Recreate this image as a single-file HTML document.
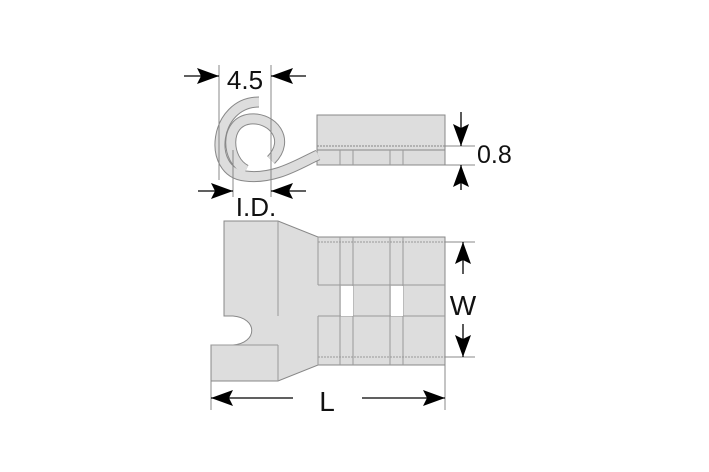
<!DOCTYPE html>
<html><head><style>body{margin:0;background:#fff}svg{display:block}text{font-family:"Liberation Sans",sans-serif;fill:#111}</style></head><body>
<svg width="709" height="472" viewBox="0 0 709 472">
<defs><marker id="a" markerWidth="22" markerHeight="16" refX="22" refY="8" orient="auto" markerUnits="userSpaceOnUse"><path d="M0,0L22,8L0,16L4,8Z" fill="#000"/></marker></defs>
<g stroke="#888" stroke-width="1" fill="#ddd">
<rect x="317" y="115" width="128" height="50"/>
<line x1="317" y1="146" x2="445" y2="146" stroke-dasharray="2,1"/>
<line x1="317" y1="150" x2="445" y2="150"/>
<g stroke="#999"><line x1="340" y1="150" x2="340" y2="165"/><line x1="353" y1="150" x2="353" y2="165"/><line x1="390" y1="150" x2="390" y2="165"/><line x1="403" y1="150" x2="403" y2="165"/></g>
</g>
<g fill="none" stroke-linecap="butt">
<path d="M259,102 C 214,102 206,172 245,176 C 275,180 300,163 318,155" stroke="#888" stroke-width="11"/>
<path d="M271,160 C 291,140 273,117 250,119 C 224,122 226,160 246,170" stroke="#888" stroke-width="11"/>
<path d="M259,102 C 214,102 206,172 245,176 C 275,180 300,163 318,155" stroke="#ddd" stroke-width="9"/>
<path d="M271,160 C 291,140 273,117 250,119 C 224,122 226,160 246,170" stroke="#ddd" stroke-width="9"/>
</g>
<path d="M224,221 L278,221 L318,237 L445,237 L445,365 L318,365 L278,381 L211,381 L211,345 L233,345 C258,343 258,318 233,316 L224,316 Z" fill="#ddd" stroke="#888"/>
<g stroke="#999" fill="none">
<line x1="278" y1="221" x2="278" y2="316"/><line x1="211" y1="345" x2="278" y2="345"/><line x1="278" y1="345" x2="278" y2="381"/>
<line x1="318" y1="237" x2="318" y2="285"/><line x1="318" y1="316" x2="318" y2="365"/>
<line x1="318" y1="285" x2="445" y2="285"/><line x1="318" y1="316" x2="445" y2="316"/>
<line x1="318" y1="242" x2="445" y2="242" stroke-dasharray="2,1"/><line x1="318" y1="357" x2="445" y2="357" stroke-dasharray="2,1"/>
<line x1="340" y1="237" x2="340" y2="365"/><line x1="353" y1="237" x2="353" y2="365"/><line x1="390" y1="237" x2="390" y2="365"/><line x1="403" y1="237" x2="403" y2="365"/>
</g>
<rect x="341" y="286" width="12" height="30" fill="#fff"/><rect x="391" y="286" width="12" height="30" fill="#fff"/>
<g stroke="#888" stroke-width="1">
<line x1="219" y1="65" x2="219" y2="180"/><line x1="271" y1="65" x2="271" y2="180"/>
<line x1="233" y1="150" x2="233" y2="197"/><line x1="271" y1="180" x2="271" y2="197"/>
<line x1="445" y1="146" x2="475" y2="146"/><line x1="445" y1="165" x2="475" y2="165"/>
<line x1="445" y1="242" x2="475" y2="242"/><line x1="445" y1="357" x2="475" y2="357"/>
<line x1="211" y1="381" x2="211" y2="410"/><line x1="445" y1="365" x2="445" y2="410"/>
</g>
<g stroke="#000" stroke-width="1.3" marker-end="url(#a)">
<line x1="184" y1="76" x2="219" y2="76"/><line x1="306" y1="76" x2="271" y2="76"/>
<line x1="198" y1="191" x2="233" y2="191"/><line x1="306" y1="191" x2="271" y2="191"/>
<line x1="461" y1="112" x2="461" y2="146"/><line x1="461" y1="190" x2="461" y2="165"/>
<line x1="463" y1="274" x2="463" y2="242"/><line x1="463" y1="324" x2="463" y2="357"/>
<line x1="293" y1="398" x2="211" y2="398"/><line x1="362" y1="398" x2="445" y2="398"/>
</g>
<text x="245" y="89" font-size="26" text-anchor="middle">4.5</text>
<text x="256" y="216" font-size="26" text-anchor="middle">I.D.</text>
<text x="477" y="163" font-size="25">0.8</text>
<text x="463" y="315" font-size="28" text-anchor="middle">W</text>
<text x="327" y="411" font-size="28" text-anchor="middle">L</text>
</svg>
</body></html>
